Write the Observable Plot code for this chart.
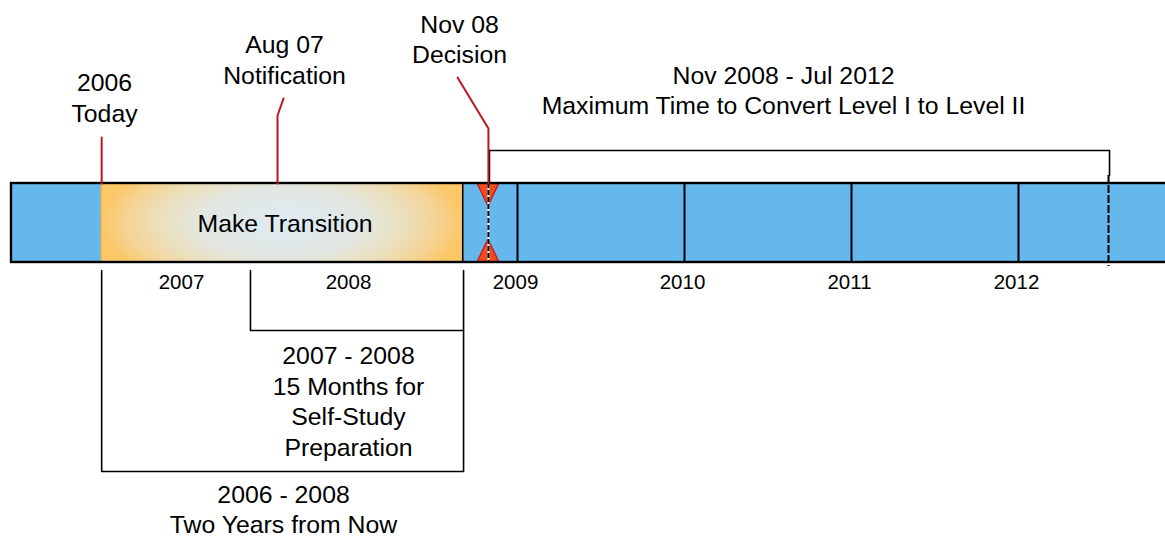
<!DOCTYPE html>
<html>
<head>
<meta charset="utf-8">
<script src="https://cdn.jsdelivr.net/npm/d3@7"></script>
<script src="https://cdn.jsdelivr.net/npm/@observablehq/plot@0.6"></script>
<style>
  html, body { margin: 0; padding: 0; background: #ffffff; }
  #chart svg { display: block; }
</style>
</head>
<body>
<div id="chart"></div>
<script>
// ---------------- DATA (dates as decimal years) ----------------
const yearLabels = ["2007", "2008", "2009", "2010", "2011", "2012"];
const yearTicks = [2007, 2008, 2009, 2010, 2011, 2012];
const yearDividers = [2009, 2010, 2011, 2012];
const timelineStart = 2005.97;
const timelineEnd = 2013.3;

const milestoneNames = ["Today", "Notification", "Decision"];
const milestoneDates = [2006.51, 2007.563, 2008.826];
const milestoneLabels = ["2006\nToday", "Aug 07\nNotification", "Nov 08\nDecision"];
const milestoneLabelDates = [2006.527, 2007.605, 2008.653];
const milestoneLeaderTipDates = [2006.51, 2007.599, 2008.641];

const periodNames = ["Make Transition", "Self-Study Preparation", "Two Years from Now", "Maximum Time to Convert"];
const periodStarts = [2006.51, 2007.401, 2006.51, 2008.826];
const periodEnds = [2008.677, 2008.677, 2008.677, 2012.539];
const periodLabels = [
  "Make Transition",
  "2007 - 2008\n15 Months for\nSelf-Study\nPreparation",
  "2006 - 2008\nTwo Years from Now",
  "Nov 2008 - Jul 2012\nMaximum Time to Convert Level I to Level II"
];
const periodLabelDates = [2007.608, 2007.988, 2007.599, 2010.593];

// ---------------- LAYOUT (vertical positions, px rows) ----------------
const W = 1165, H = 538;
const pxPerYear = 167;
const xDomain = [2009 - 517 / pxPerYear, 2009 + 648 / pxPerYear];
const L = {
  barTop: 183, barBottom: 262,
  bracketTop: 150, convertTickEnd: 175, convertDashEnd: 266,
  tickTop: 270, studyBracketY: 330, twoYearBracketY: 471,
  yearLabelY: 282,
  triDepth: 23, triHalf: 0.066
};
const milestoneLabelY = [96, 58, 37.5];
const milestoneLeaderTopY = [137, 98, 77];
const milestoneKinkY = [137, 115, 128];
const periodLabelY = [222, 399.5, 507.5, 88.5];

const RED = "#C0141B";
const BLUE = "#65B7EC";
const FONT = "'Liberation Sans', Arial, Helvetica, sans-serif";

// ---------------- derived tables ----------------
const milestones = milestoneNames.map((n, i) => ({
  name: n, date: milestoneDates[i], label: milestoneLabels[i],
  labelAt: milestoneLabelDates[i], labelY: milestoneLabelY[i]
}));
const leaders = milestoneNames.flatMap((n, i) => [
  {name: n, x: milestoneLeaderTipDates[i], y: milestoneLeaderTopY[i]},
  {name: n, x: milestoneDates[i], y: milestoneKinkY[i]},
  {name: n, x: milestoneDates[i], y: L.barTop}
]);
const periods = periodNames.map((n, i) => ({
  name: n, start: periodStarts[i], end: periodEnds[i], label: periodLabels[i],
  labelAt: periodLabelDates[i], labelY: periodLabelY[i]
}));
const [transition, study, twoYear, convert] = periods;

const convertBracket = [
  {x: convert.start, y: L.barTop}, {x: convert.start, y: L.bracketTop},
  {x: convert.end, y: L.bracketTop}, {x: convert.end, y: L.convertTickEnd}
];
const studyBracket = [
  {x: study.start, y: L.tickTop}, {x: study.start, y: L.studyBracketY},
  {x: study.end, y: L.studyBracketY}
];
const twoYearBracket = [
  {x: twoYear.start, y: L.tickTop}, {x: twoYear.start, y: L.twoYearBracketY},
  {x: twoYear.end, y: L.twoYearBracketY}, {x: twoYear.end, y: L.tickTop}
];
const dec = milestoneDates[2];
const triangles = [
  {k: "top", x: dec - L.triHalf, y1: L.barTop, y2: L.barTop},
  {k: "top", x: dec, y1: L.barTop, y2: L.barTop + L.triDepth},
  {k: "top", x: dec + L.triHalf, y1: L.barTop, y2: L.barTop},
  {k: "bot", x: dec - L.triHalf, y1: L.barBottom, y2: L.barBottom},
  {k: "bot", x: dec, y1: L.barBottom, y2: L.barBottom - L.triDepth},
  {k: "bot", x: dec + L.triHalf, y1: L.barBottom, y2: L.barBottom}
];
const years = yearTicks.map((y, i) => ({year: y, label: yearLabels[i]}));

const bigText = {fontSize: 24.8, fontFamily: FONT, fill: "#000", lineHeight: 1.23};

const svg = Plot.plot({
  width: W, height: H,
  marginTop: 0, marginBottom: 0, marginLeft: 0, marginRight: 0,
  style: {fontFamily: FONT, background: "#ffffff", overflow: "hidden"},
  x: {domain: xDomain, range: [0, W], axis: null},
  y: {domain: [0, H], range: [0, H], axis: null},
  marks: [
    // timeline bar fill
    Plot.rect([{a: timelineStart, b: timelineEnd}], {x1: "a", x2: "b", y1: L.barTop, y2: L.barBottom, fill: BLUE}),
    // transition box (gradient applied after render)
    Plot.rect([transition], {x1: "start", x2: "end", y1: L.barTop, y2: L.barBottom, fill: "#F8CC7B", stroke: "#F1B444", strokeWidth: 1.2}),
    // year dividers
    Plot.ruleX(yearDividers, {y1: L.barTop, y2: L.barBottom, stroke: "#000", strokeWidth: 2}),
    Plot.ruleX([transition.end], {dx: -0.8, y1: L.barTop, y2: L.barBottom, stroke: "#000", strokeWidth: 1.6}),
    // decision triangles
    Plot.areaY(triangles, {x: "x", y1: "y1", y2: "y2", z: "k", fill: "#F04C1E", stroke: "#C8101A", strokeWidth: 1.2}),
    Plot.ruleX([dec], {y1: L.barTop, y2: L.barBottom, stroke: "#ffffff", strokeWidth: 2}),
    Plot.ruleX([dec], {y1: L.barTop, y2: L.barBottom, stroke: "#000", strokeWidth: 2, strokeDasharray: "5,2"}),
    // convert end dashed
    Plot.ruleX([convert.end], {y1: L.convertTickEnd, y2: L.convertDashEnd, stroke: "#000", strokeWidth: 2, strokeDasharray: "8,2"}),
    // bar outline
    Plot.rect([{a: timelineStart, b: timelineEnd}], {x1: "a", x2: "b", y1: L.barTop, y2: L.barBottom, fill: "none", stroke: "#000", strokeWidth: 2.4}),
    // brackets
    Plot.line(convertBracket, {x: "x", y: "y", stroke: "#000", strokeWidth: 1.6, dx: 1}),
    Plot.line(studyBracket, {x: "x", y: "y", stroke: "#000", strokeWidth: 1.6}),
    Plot.line(twoYearBracket, {x: "x", y: "y", stroke: "#000", strokeWidth: 1.6}),
    // red leaders
    Plot.line(leaders, {x: "x", y: "y", z: "name", stroke: RED, strokeWidth: 2}),
    // year labels
    Plot.text(years, {x: "year", y: L.yearLabelY, text: "label", dx: -2, fontSize: 20.5, fontFamily: FONT, fill: "#000"}),
    // milestone labels
    Plot.text(milestones, {x: "labelAt", y: "labelY", text: "label", ...bigText}),
    // period labels
    Plot.text(periods, {x: "labelAt", y: "labelY", text: "label", ...bigText})
  ]
});

// radial gradient for the transition box
const s = d3.select(svg);
const defs = s.insert("defs", ":first-child");
const grad = defs.append("radialGradient")
  .attr("id", "transGrad")
  .attr("cx", 0.5).attr("cy", 0.5).attr("r", 0.5)
  .attr("gradientTransform", "translate(0.5,0.5) scale(1,2) translate(-0.5,-0.5)");
[[0, "#DDEAF4"], [0.45, "#E3E7E1"], [0.68, "#ECDFBC"], [0.86, "#F5D394"], [1, "#FCC766"]]
  .forEach(([o, c]) => grad.append("stop").attr("offset", o).attr("stop-color", c));
s.selectAll("g, rect")
  .filter(function () { return (this.getAttribute("fill") || "").toUpperCase() === "#F8CC7B"; })
  .each(function () {
    this.setAttribute("fill", "url(#transGrad)");
    d3.select(this).selectAll("rect").attr("fill", "url(#transGrad)");
  });

document.getElementById("chart").appendChild(svg);
</script>
</body>
</html>
